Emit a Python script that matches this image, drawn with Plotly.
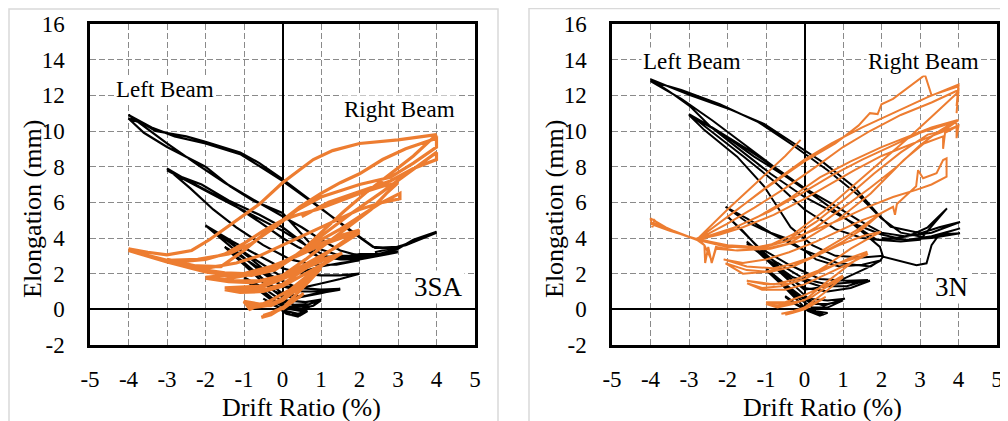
import plotly.graph_objects as go

# ---------------- axis ticks ----------------
x_ticks = [-5, -4, -3, -2, -1, 0, 1, 2, 3, 4, 5]
x_tick_text = ["-5", "-4", "-3", "-2", "-1", "0", "1", "2", "3", "4", "5"]
y_ticks = [-2, 0, 2, 4, 6, 8, 10, 12, 14, 16]
y_tick_text = ["-2", "0", "2", "4", "6", "8", "10", "12", "14", "16"]

# ---------------- specimen 3SA ----------------
# Left beam (drift ratio %, elongation mm)
sa_left_beam = [
    (0, 0), (-0.2, 0.2), (-0.45, 0.5), (-0.25, 0.25), (0, 0.0), (0.2, -0.3), (0.45, -0.35), (0.65, -0.1),
    (0.4, -0.25), (0.1, -0.1), (-0.2, 0.25), (-0.5, 0.6), (-0.2, 0.25), (0.1, -0.25), (0.4, -0.4), (0.7, 0.1),
    (0.5, -0.1), (0.1, 0.05),
    (-0.3, 0.55), (-0.7, 1.2), (-1.0, 1.7), (-0.7, 1.2), (-0.3, 0.6), (0.1, 0.1), (0.5, 0.05), (0.8, 0.2),
    (1.0, 0.5), (0.7, 0.3), (0.3, 0.25), (0, 0.45), (-0.5, 1.2), (-1.0, 1.8), (-0.6, 1.2), (-0.2, 0.5),
    (0.2, 0.15), (0.6, 0.2), (1.0, 0.55), (0.6, 0.4), (0.1, 0.5),
    (-0.5, 1.5), (-1.0, 2.5), (-1.5, 3.5), (-1.1, 2.8), (-0.6, 1.9), (-0.2, 1.0), (0.3, 0.6), (0.8, 0.85),
    (1.5, 1.1), (1.1, 1.0), (0.5, 1.0), (0, 1.3), (-0.6, 2.3), (-1.1, 3.0), (-1.5, 3.5), (-1.0, 2.6),
    (-0.5, 1.7), (0, 0.9), (0.5, 0.7), (1.0, 0.9), (1.5, 1.15), (1.0, 1.1), (0.4, 1.2),
    (-0.3, 1.9), (-0.8, 2.8), (-1.4, 3.8), (-2.0, 4.7), (-1.5, 3.8), (-1.0, 2.9), (-0.5, 2.0), (0, 1.3),
    (0.5, 1.2), (1.0, 1.45), (1.5, 1.7), (2.0, 2.0), (1.5, 1.9), (1.0, 1.9), (0.5, 2.0), (0, 2.3),
    (-0.6, 3.0), (-1.3, 3.8), (-2.0, 4.7), (-1.5, 4.0), (-1.0, 3.2), (-0.5, 2.5), (0, 1.8), (0.5, 2.1),
    (1.0, 2.4), (1.5, 2.6), (2.0, 2.75), (1.4, 2.5), (0.8, 2.5), (0.2, 2.8),
    (-0.5, 3.6), (-1.2, 4.6), (-1.8, 5.6), (-2.4, 6.8), (-3.0, 7.9), (-2.6, 7.4), (-2.1, 7.0), (-1.4, 6.1),
    (-0.6, 5.3), (0, 4.6), (0.5, 3.8), (0.9, 3.0), (1.5, 2.9), (2.0, 3.1), (2.5, 3.1), (3.0, 3.2),
    (2.5, 3.0), (2.0, 2.8), (1.5, 2.8), (0.9, 3.0), (0.4, 3.5), (0, 4.0), (-0.6, 4.9), (-1.3, 5.9),
    (-2.0, 6.7), (-2.6, 7.4), (-3.0, 7.8), (-2.4, 7.1), (-1.6, 6.2), (-0.8, 5.3), (0, 4.4), (0.6, 3.6),
    (1.2, 2.9), (2.0, 2.9), (3.0, 3.25), (2.3, 3.0), (1.5, 3.0), (0.8, 3.5),
    (0, 5.4), (-0.77, 6.1), (-1.36, 6.9), (-2.0, 8.0), (-3.0, 9.1), (-3.6, 9.9), (-4.0, 10.7), (-3.6, 10.4),
    (-3.3, 10.0), (-2.5, 9.7), (-2.0, 9.4), (-1.1, 8.8), (-0.6, 8.2), (0, 7.3), (0.8, 6.0), (1.7, 4.5),
    (2.35, 3.5), (2.8, 3.4), (3.3, 3.7), (4.0, 4.35), (3.4, 3.9), (3.0, 3.4), (2.5, 3.1), (2.0, 3.0),
    (1.5, 3.3), (1.0, 3.9), (0.5, 4.6), (0, 5.2), (-0.8, 6.2), (-1.5, 7.1), (-2.2, 8.1), (-3.0, 9.3),
    (-3.5, 10.1), (-4.0, 10.9), (-3.4, 10.2), (-2.8, 9.7), (-2.0, 9.3), (-1.1, 8.7), (-0.5, 7.9), (0, 7.2),
    (0.9, 5.8), (1.8, 4.4), (2.4, 3.45), (3.0, 3.5), (3.5, 3.9), (4.0, 4.3), (3.2, 3.6), (2.4, 3.2),
]

# Right beam
sa_right_beam = [
    (0, 0), (0.25, 0.4), (0.5, 0.8), (0.25, 0.4), (0, 0.05), (-0.3, -0.25), (-0.5, -0.35), (-0.3, -0.2),
    (0, 0.1), (0.3, 0.5), (0.55, 0.9), (0.3, 0.5), (0, 0.1), (-0.3, -0.3), (-0.55, -0.45), (-0.3, -0.25),
    (0, 0.05),
    (0.4, 0.9), (0.7, 1.6), (1.0, 2.3), (0.7, 1.8), (0.3, 1.1), (0, 0.6), (-0.4, 0.2), (-0.8, 0.1),
    (-1.0, 0.4), (-0.7, 0.2), (-0.3, 0.2), (0, 0.5), (0.5, 1.3), (1.0, 2.4), (0.6, 1.8), (0.2, 1.1),
    (-0.3, 0.5), (-0.85, 0.0), (-1.0, 0.45), (-0.6, 0.3), (-0.1, 0.4),
    (0.4, 1.4), (0.9, 2.3), (1.5, 3.1), (1.1, 2.8), (0.6, 2.3), (0, 1.7), (-0.6, 1.2), (-1.1, 1.0),
    (-1.5, 1.1), (-1.1, 0.95), (-0.5, 1.0), (0, 1.3), (0.6, 2.0), (1.1, 2.6), (1.55, 3.15), (1.2, 2.9),
    (0.6, 2.5), (0, 1.9), (-0.6, 1.3), (-1.5, 1.2), (-1.0, 1.1), (-0.4, 1.15), (0, 1.4),
    (0.6, 2.3), (1.2, 3.2), (1.6, 3.8), (2.0, 4.45), (1.6, 4.2), (1.0, 3.7), (0.4, 3.1), (-0.2, 2.4),
    (-0.8, 1.95), (-1.5, 1.7), (-2.0, 1.75), (-1.4, 1.55), (-0.8, 1.5), (-0.2, 1.7), (0.4, 2.3), (1.0, 3.0),
    (1.5, 3.6), (2.0, 4.3), (1.6, 4.05), (1.0, 3.6), (0.4, 3.0), (-0.3, 2.4), (-1.0, 2.0), (-2.0, 1.8),
    (-1.3, 1.6), (-0.6, 1.6), (0, 1.9),
    (0.6, 2.8), (1.2, 3.8), (1.8, 4.8), (2.3, 5.6), (2.7, 6.5), (3.0, 7.1), (2.6, 6.9), (2.0, 6.5),
    (1.4, 6.0), (0.9, 5.6), (0.4, 5.3), (0, 5.0), (-0.5, 4.4), (-1.0, 3.7), (-1.5, 3.1), (-2.0, 2.8),
    (-2.5, 2.7), (-3.0, 2.75), (-2.5, 2.4), (-2.0, 2.2), (-1.5, 2.05), (-1.0, 2.0), (-0.5, 2.2), (0, 2.6),
    (0.5, 3.2), (1.0, 3.9), (1.5, 4.5), (2.0, 5.2), (2.5, 5.9), (3.05, 6.5), (3.05, 6.2), (2.6, 6.0),
    (2.0, 5.6), (1.5, 5.1), (1.0, 4.6), (0.5, 4.1), (0, 3.6), (-0.6, 3.0), (-1.2, 2.6), (-2.0, 2.3),
    (-3.0, 2.8), (-2.3, 2.3), (-1.5, 2.0), (-0.8, 1.9), (-0.2, 2.2),
    (0.45, 3.15), (1.0, 4.3), (1.6, 5.5), (2.2, 6.6), (2.8, 7.6), (3.4, 8.6), (4.0, 9.8), (3.5, 9.65),
    (3.0, 9.5), (2.0, 9.3), (1.3, 8.9), (0.8, 8.4), (0.3, 7.6), (0, 7.1), (-0.6, 5.9), (-1.3, 4.8),
    (-1.9, 3.9), (-2.36, 3.3), (-3.0, 3.05), (-3.5, 3.2), (-4.0, 3.4), (-3.5, 3.0), (-3.0, 2.7), (-2.4, 2.45),
    (-1.6, 2.4), (-1.0, 3.3), (-0.5, 4.2), (0, 5.0), (0.45, 5.75), (1.0, 6.5), (1.5, 7.1), (2.0, 7.6),
    (2.6, 8.4), (3.2, 9.0), (4.0, 9.6), (4.0, 9.1), (3.4, 8.2), (2.8, 7.4), (2.0, 7.0), (1.0, 6.3),
    (0.4, 5.6), (-0.2, 4.6), (-0.8, 3.7), (-1.4, 3.1), (-2.2, 2.8), (-3.0, 2.75), (-4.0, 3.3), (-3.0, 2.65),
    (-2.0, 2.1), (-1.2, 1.85), (-0.5, 2.1), (0.2, 2.8), (1.0, 4.1), (1.8, 5.4), (2.6, 6.6), (3.3, 7.7),
    (4.0, 8.8), (4.0, 8.4), (3.4, 7.9), (2.8, 7.2), (2.0, 6.6), (1.2, 6.0), (0.5, 5.2),
]

# ---------------- specimen 3N ----------------
n_left_beam = [
    (0, 0), (-0.25, 0.3), (-0.5, 0.7), (-0.25, 0.3), (0, 0), (0.3, -0.2), (0.5, -0.3), (0.3, -0.15),
    (0, 0.05), (-0.3, 0.4), (-0.5, 0.75), (-0.2, 0.3), (0.1, -0.1), (0.4, -0.35), (0.6, -0.2), (0.3, -0.1),
    (0, 0.1),
    (-0.5, 1.2), (-1.0, 2.2), (-0.6, 1.5), (-0.2, 0.7), (0.2, 0.1), (0.6, 0.1), (1.0, 0.5), (0.6, 0.3),
    (0.2, 0.3), (-0.4, 1.1), (-1.0, 2.3), (-0.5, 1.4), (0, 0.6), (0.5, 0.2), (1.05, 0.6), (0.6, 0.5),
    (0.1, 0.6),
    (-0.5, 1.8), (-1.0, 2.8), (-1.5, 3.8), (-1.0, 2.9), (-0.5, 1.9), (0, 1.2), (0.6, 1.0), (1.2, 1.2),
    (1.7, 1.6), (1.2, 1.5), (0.6, 1.4), (0, 1.7), (-0.7, 2.6), (-1.5, 3.7), (-0.9, 2.7), (-0.3, 1.8),
    (0.4, 1.3), (1.1, 1.3), (1.65, 1.65), (1.1, 1.6), (0.4, 1.7),
    (-0.4, 2.5), (-1.2, 3.5), (-2.0, 5.2), (-1.6, 4.4), (-1.22, 3.5), (-0.8, 2.7), (-0.45, 1.9), (0, 1.1),
    (0.6, 1.3), (1.2, 1.9), (1.6, 2.3), (2.0, 2.76), (1.5, 2.5), (0.9, 2.4), (0.3, 2.8), (0, 3.3),
    (-0.5, 4.0), (-0.88, 4.3), (-1.5, 5.1), (-2.05, 5.75), (-1.5, 4.9), (-0.88, 4.27), (0, 3.3), (0.85, 2.6),
    (1.72, 2.4), (1.98, 2.76), (2.05, 3.0), (1.5, 2.9), (0.8, 3.0), (0.2, 3.6),
    (-0.36, 4.6), (-1.05, 6.9), (-1.75, 8.56), (-2.6, 10.05), (-3.0, 10.9), (-2.18, 9.9), (-1.31, 8.56),
    (-0.45, 7.4), (0.42, 6.1), (1.36, 4.63), (1.88, 3.9), (2.5, 3.8), (3.0, 3.9), (3.7, 5.66), (3.2, 4.6),
    (2.7, 4.1), (2.0, 3.9), (1.5, 4.0), (0.8, 4.5), (0, 5.6), (-0.8, 7.2), (-1.6, 8.6), (-2.3, 9.8),
    (-3.0, 10.95), (-2.4, 10.2), (-1.5, 9.0), (-0.6, 7.7), (0.3, 6.3), (1.2, 4.9), (1.96, 3.5), (2.04, 2.95),
    (2.91, 2.48), (3.17, 2.58), (3.3, 3.6), (3.5, 4.2), (4.04, 4.27), (3.3, 4.0), (2.6, 3.9), (2.0, 4.2),
    (1.4, 4.7),
    (0.6, 5.6), (0, 6.3), (-0.88, 7.6), (-1.75, 9.1), (-2.44, 10.24), (-2.96, 11.36), (-3.5, 12.2),
    (-4.0, 12.9), (-2.96, 12.0), (-1.92, 11.2), (-1.05, 10.4), (-0.27, 9.3), (0.51, 8.2), (1.29, 6.86),
    (1.88, 5.4), (2.24, 4.63), (3.02, 4.27), (3.5, 4.6), (4.04, 4.9), (3.3, 4.3), (2.6, 4.1), (2.0, 4.3),
    (1.4, 5.0), (0.8, 5.8), (0, 6.8), (-0.8, 8.0), (-1.6, 9.3), (-2.4, 10.6), (-3.2, 11.8), (-4.0, 12.8),
    (-3.2, 12.3), (-2.2, 11.5), (-1.2, 10.5), (-0.3, 9.2), (0.6, 7.8), (1.4, 6.4), (2.0, 5.1), (2.5, 4.3),
    (3.2, 4.0), (4.04, 4.54), (3.3, 4.1), (2.7, 3.9), (2.0, 4.0),
]

n_right_beam = [
    (0, 0), (0.25, 0.3), (0.5, 0.6), (0.25, 0.3), (0, 0), (-0.3, -0.2), (-0.5, -0.3), (-0.25, -0.15),
    (0, 0.05), (0.3, 0.4), (0.55, 0.7), (0.3, 0.4), (0, 0.1), (-0.3, -0.15), (-0.6, -0.25), (-0.3, -0.1),
    (0, 0.1),
    (0.5, 0.9), (1.0, 1.8), (0.6, 1.3), (0.2, 0.7), (-0.3, 0.3), (-0.7, 0.1), (-1.0, 0.3), (-0.7, 0.2),
    (-0.3, 0.3), (0.2, 0.7), (0.6, 1.3), (1.0, 1.9), (0.6, 1.4), (0, 0.8), (-0.5, 0.4), (-1.0, 0.4),
    (-0.6, 0.3), (0, 0.5),
    (0.5, 1.4), (1.1, 2.4), (1.63, 3.23), (1.2, 2.9), (0.6, 2.3), (0, 1.7), (-0.6, 1.3), (-1.1, 1.2),
    (-1.49, 1.46), (-1.1, 1.1), (-0.5, 1.1), (0, 1.4), (0.6, 2.0), (1.2, 2.6), (1.65, 3.1), (1.2, 2.8),
    (0.5, 2.3), (-0.2, 1.7), (-0.8, 1.4), (-1.5, 1.6), (-1.0, 1.4), (-0.4, 1.45), (0, 1.7),
    (0.6, 2.5), (1.2, 3.4), (1.6, 3.9), (1.98, 4.35), (1.5, 4.1), (0.9, 3.6), (0.3, 3.0), (-0.4, 2.5),
    (-1.0, 2.1), (-1.6, 2.0), (-2.05, 2.58), (-1.5, 2.2), (-0.9, 2.1), (-0.3, 2.4), (0.4, 3.1), (1.0, 3.8),
    (1.5, 4.5), (1.98, 5.38), (1.5, 5.0), (0.9, 4.4), (0.3, 3.8), (-0.4, 3.2), (-1.0, 2.8), (-1.6, 2.6),
    (-2.1, 2.8), (-1.5, 2.4), (-0.8, 2.3), (0, 2.7),
    (0.7, 3.6), (1.4, 4.5), (1.98, 5.38), (2.3, 5.75), (2.35, 5.3), (2.4, 5.9), (2.9, 6.9), (2.95, 7.8),
    (3.08, 7.35), (3.43, 7.64), (3.6, 8.37), (3.69, 8.47), (3.69, 7.44), (3.3, 7.0), (2.9, 6.7), (2.3, 6.3),
    (1.6, 5.7), (0.9, 5.0), (0.2, 4.4), (-0.5, 3.8), (-1.2, 3.4), (-1.8, 3.5), (-2.3, 3.7), (-2.8, 4.0),
    (-2.6, 3.6), (-2.58, 2.6), (-2.5, 3.5), (-2.41, 2.6), (-2.3, 3.4), (-1.74, 3.3), (-0.88, 3.4), (0, 3.9),
    (0.85, 5.0), (1.72, 6.5), (2.58, 8.37), (3.1, 9.3), (3.6, 9.7), (3.6, 9.0), (3.65, 9.9), (3.95, 10.24),
    (3.95, 9.6), (3.95, 10.6), (3.3, 10.2), (2.6, 9.6), (2.0, 9.1), (1.2, 8.3), (0.4, 7.4), (-0.4, 6.2),
    (-1.2, 5.2), (-2.0, 4.4), (-2.8, 3.9),
    (-3.3, 4.3), (-3.7, 4.6), (-3.9, 5.0), (-3.95, 4.6), (-4.0, 5.1), (-3.6, 4.6), (-3.2, 4.2), (-2.8, 3.9),
    (-2.6, 3.6), (-2.4, 2.7), (-2.3, 3.5), (-1.8, 3.3), (-1.0, 3.4), (-0.4, 3.7), (0.3, 4.6), (1.0, 5.7),
    (1.7, 6.8), (2.4, 8.0), (3.0, 9.2), (3.5, 10.0), (3.95, 10.6), (3.95, 9.6), (4.0, 10.3), (3.4, 9.8),
    (2.8, 9.3), (2.0, 8.6), (1.3, 7.8), (0.5, 6.8), (0, 6.2), (-0.8, 5.3), (-1.6, 4.6), (-2.2, 4.2),
    (-2.8, 3.9),
    (-3.4, 4.4), (-4.0, 4.8), (-3.5, 4.4), (-2.8, 3.95), (-2.0, 3.6), (-1.2, 3.5), (-0.5, 3.8), (0.3, 4.9),
    (1.0, 6.1), (1.8, 7.6), (2.5, 8.8), (3.2, 9.8), (3.6, 10.0), (4.0, 10.6), (3.6, 10.3), (3.0, 9.9),
    (2.2, 9.1), (1.5, 8.4), (0.7, 7.5), (0, 6.6), (-0.9, 5.5), (-1.8, 4.6), (-2.8, 3.9),
    (-2.0, 5.2), (-1.0, 6.8), (0, 8.3), (0.8, 9.3), (1.4, 10.3), (1.7, 11.0), (1.9, 10.95), (2.0, 11.5),
    (2.3, 11.8), (2.6, 12.3), (2.8, 12.6), (3.13, 13.14), (3.3, 12.0), (3.6, 12.2), (4.0, 12.5), (3.95, 11.0),
    (4.0, 12.3), (3.3, 11.6), (2.5, 10.9), (1.7, 10.0), (1.0, 9.1), (0.3, 8.0), (-0.5, 6.8), (-1.3, 5.7),
    (-2.0, 4.8), (-2.8, 3.9), (-3.4, 4.4), (-4.0, 4.9), (-3.4, 4.4), (-2.8, 3.9), (-2.0, 3.5), (-1.0, 3.5),
    (-0.3, 4.2), (0.5, 5.5), (1.3, 7.0), (2.0, 8.3), (2.8, 9.8), (3.4, 11.0), (4.0, 12.2), (3.95, 11.4),
    (4.0, 12.6), (3.2, 11.9), (2.4, 11.1), (1.5, 10.2), (0.7, 9.3), (0, 8.4), (-0.9, 7.0), (-1.8, 5.5),
    (-2.8, 3.9), (-2.0, 5.6), (-1.2, 7.2), (-0.5, 8.6), (-0.1, 9.5),
]

BLACK = "#000000"
ORANGE = "#ED7D31"
FONT = "Times New Roman, Liberation Serif, DejaVu Serif, serif"


def xs(path):
    return [p[0] for p in path]


def ys(path):
    return [p[1] for p in path]


fig = go.Figure()
fig.add_trace(go.Scatter(x=xs(sa_left_beam), y=ys(sa_left_beam), mode="lines",
                         line=dict(color=BLACK, width=2.2), xaxis="x", yaxis="y", hoverinfo="skip"))
fig.add_trace(go.Scatter(x=xs(sa_right_beam), y=ys(sa_right_beam), mode="lines",
                         line=dict(color=ORANGE, width=3.2), xaxis="x", yaxis="y", hoverinfo="skip"))
fig.add_trace(go.Scatter(x=xs(n_left_beam), y=ys(n_left_beam), mode="lines",
                         line=dict(color=BLACK, width=2), xaxis="x2", yaxis="y2", hoverinfo="skip"))
fig.add_trace(go.Scatter(x=xs(n_right_beam), y=ys(n_right_beam), mode="lines",
                         line=dict(color=ORANGE, width=2), xaxis="x2", yaxis="y2", hoverinfo="skip"))

common = dict(
    showgrid=True, gridcolor="#8a8a8a", gridwidth=1.4, griddash="6px,3px",
    zeroline=True, zerolinecolor="black", zerolinewidth=2,
    showline=True, mirror=True, linecolor="black", linewidth=2.5,
    ticks="", automargin=False,
    tickfont=dict(family=FONT, size=23, color="black"),
)
xcommon = dict(common, range=[-5, 5], tickmode="array", tickvals=x_ticks, ticktext=x_tick_text,
               ticklabelstandoff=12)
ycommon = dict(common, range=[-2, 16], tickmode="array", tickvals=y_ticks, ticktext=y_tick_text,
               ticklabelstandoff=18)

# page body adds an 8px offset; figure coordinates are reference pixels minus 8
OFF = 8
W, H = 1000, 413


def px_x(p):
    return (p - OFF) / W


def px_y(p):
    return 1 - (p - OFF) / H


ydom = [px_y(345), px_y(24)]

fig.update_layout(
    width=W, height=H, margin=dict(l=0, r=0, t=0, b=0, autoexpand=False),
    paper_bgcolor="white", plot_bgcolor="white", showlegend=False,
    font=dict(family=FONT, color="black"),
    xaxis=dict(xcommon, domain=[px_x(90), px_x(475)], anchor="y"),
    yaxis=dict(ycommon, domain=ydom, anchor="x"),
    xaxis2=dict(xcommon, domain=[px_x(612), px_x(997)], anchor="y2"),
    yaxis2=dict(ycommon, domain=ydom, anchor="x2"),
)

ann = []
# axis titles
for cx in (301, 822):
    ann.append(dict(text="Drift Ratio (%)", x=px_x(cx), y=px_y(407), xref="paper", yref="paper",
                    showarrow=False, xanchor="center", yanchor="middle",
                    font=dict(family=FONT, size=26, color="black")))
for cx in (32, 554):
    ann.append(dict(text="Elongation (mm)", x=px_x(cx), y=px_y(209), xref="paper", yref="paper",
                    showarrow=False, xanchor="center", yanchor="middle", textangle=-90,
                    font=dict(family=FONT, size=26, color="black")))
# in-plot labels
labels = [
    ("Left Beam", -3.05, 12.35, "x", "y", 23),
    ("Right Beam", 3.05, 11.18, "x", "y", 23),
    ("3SA", 4.04, 1.25, "x", "y", 27),
    ("Left Beam", -2.92, 13.92, "x2", "y2", 23),
    ("Right Beam", 3.08, 13.92, "x2", "y2", 23),
    ("3N", 3.82, 1.25, "x2", "y2", 27),
]
for t, x, y, xr, yr, fs in labels:
    ann.append(dict(text=t, x=x, y=y, xref=xr, yref=yr, showarrow=False, bgcolor="white",
                    xanchor="center", yanchor="middle", borderpad=1,
                    font=dict(family=FONT, size=fs, color="black")))
fig.update_layout(annotations=ann)

# light chart-area frames
fig.update_layout(shapes=[
    dict(type="rect", xref="paper", yref="paper", x0=0.001, x1=px_x(498), y0=-0.2, y1=px_y(9),
         line=dict(color="#d9d9d9", width=1.5), fillcolor="rgba(0,0,0,0)", layer="below"),
    dict(type="rect", xref="paper", yref="paper", x0=px_x(529), x1=1.2, y0=-0.2, y1=px_y(8.5),
         line=dict(color="#d9d9d9", width=1.5), fillcolor="rgba(0,0,0,0)", layer="below"),
])

fig.write_html("out.html")
